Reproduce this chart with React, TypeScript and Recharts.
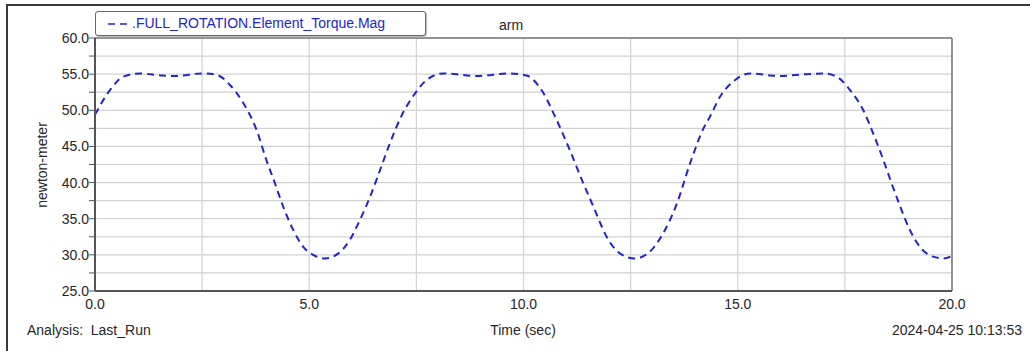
import React from "react";
import { LineChart, Line, XAxis, YAxis, CartesianGrid, ReferenceLine } from "recharts";

const timeSec = [
  0, 0.35, 0.66, 1.05, 1.56, 1.9, 2.49, 2.84, 3.15, 3.46, 3.77, 4.0, 4.2, 4.39, 4.63, 4.86, 5.09, 5.37,
  5.68, 5.95, 6.18, 6.42, 6.65, 6.88, 7.15, 7.47, 7.74, 8.13, 8.91, 9.69, 10.07, 10.42, 10.77, 11.08,
  11.36, 11.63, 11.94, 12.25, 12.6, 12.95, 13.26, 13.58, 13.89, 14.2, 14.35, 14.59, 14.94, 15.29, 15.95,
  16.61, 17.0, 17.31, 17.62, 17.93, 18.16, 18.4, 18.59, 18.79, 19.02, 19.25, 19.56, 19.8, 20.0,
];
const torqueMag = [
  49.4, 52.8, 54.65, 55.1, 54.8, 54.75, 55.1, 54.9, 53.5, 51.0, 47.3, 43.1, 39.9, 36.7, 33.4, 31.1, 30.0, 29.5,
  30.2, 32.1, 34.8, 38.05, 41.7, 45.4, 49.2, 52.35, 54.2, 55.1, 54.75, 55.1, 54.8, 52.8, 48.7, 44.5,
  40.4, 36.7, 32.5, 30.2, 29.5, 30.45, 33.0, 37.1, 42.7, 47.5, 49.1, 51.9, 54.2, 55.1, 54.75,
  55.0, 55.1, 54.65, 52.8, 50.0, 46.8, 43.1, 39.9, 36.7, 33.4, 31.1, 29.75, 29.5, 29.85,
];
const xTicks = [0, 2.5, 5, 7.5, 10, 12.5, 15, 17.5, 20];
const yTicks = [25, 27.5, 30, 32.5, 35, 37.5, 40, 42.5, 45, 47.5, 50, 52.5, 55, 57.5, 60];

const seriesName = ".FULL_ROTATION.Element_Torque.Mag";
const titleText = "arm";
const yLabel = "newton-meter";
const xLabel = "Time (sec)";
const analysisText = "Analysis:  Last_Run";
const stampText = "2024-04-25 10:13:53";

const data = timeSec.map((t, i) => ({ t, v: torqueMag[i] }));

const FONT = "'Liberation Sans', Arial, Helvetica, sans-serif";
const TXT = "#262626";
const BLUE = "#2323d2";

const YTick = (props: any) => {
  const { x, y, payload } = props;
  const v = payload.value;
  if (Math.abs(v % 5) > 1e-6) return null;
  return (
    <text x={x + 2} y={y + 5} textAnchor="end" fontSize={14} fill={TXT} fontFamily={FONT}>
      {v.toFixed(1)}
    </text>
  );
};

const XTick = (props: any) => {
  const { x, y, payload } = props;
  const v = payload.value;
  if (Math.abs(v % 5) > 1e-6) return null;
  return (
    <text x={x} y={y + 10} textAnchor="middle" fontSize={14} fill={TXT} fontFamily={FONT}>
      {v.toFixed(1)}
    </text>
  );
};

export default function App() {
  return (
    <div style={{ position: "absolute", left: 0, top: 0, width: 1030, height: 351, background: "#fff", fontFamily: FONT, overflow: "hidden" }}>
      <div style={{ position: "absolute", left: 6, top: 4, width: 1030, height: 360, borderTop: "2px solid #3a3a3a", borderLeft: "2px solid #3a3a3a" }} />
      <LineChart width={1030} height={351} data={data} margin={{ top: 38, right: 78, bottom: 0, left: 0 }}>
        <CartesianGrid stroke="#d2d2d2" strokeWidth={1.2} horizontalValues={yTicks} verticalValues={xTicks} />
        <XAxis
          dataKey="t"
          type="number"
          domain={[0, 20]}
          ticks={xTicks}
          height={60}
          tick={<XTick />}
          tickLine={false}
          axisLine={{ stroke: "#555", strokeWidth: 2 }}
          interval={0}
        />
        <YAxis
          dataKey="v"
          type="number"
          domain={[25, 60]}
          ticks={yTicks}
          width={95}
          tick={<YTick />}
          tickSize={6}
          tickLine={{ stroke: "#555" }}
          axisLine={{ stroke: "#555", strokeWidth: 2 }}
          interval={0}
        />
        <ReferenceLine y={60} stroke="#777" strokeWidth={1.5} />
        <ReferenceLine x={20} stroke="#777" strokeWidth={1.5} />
        <Line
          dataKey="v"
          type="monotone"
          stroke={BLUE}
          strokeWidth={2}
          strokeDasharray="7 5"
          dot={false}
          isAnimationActive={false}
        />
      </LineChart>
      <div style={{ position: "absolute", left: 95, top: 11, width: 329, height: 23, border: "1.5px solid #666", borderRadius: 3, background: "#fff", boxShadow: "1px 1px 1px #bbb" }}>
        <svg width={30} height={23} style={{ position: "absolute", left: 10, top: 0 }}>
          <line x1={2} y1={12} x2={26} y2={12} stroke={BLUE} strokeWidth={1.6} strokeDasharray="7 5" />
        </svg>
        <div style={{ position: "absolute", left: 36, top: 3, fontSize: 14, color: BLUE, whiteSpace: "nowrap", lineHeight: "16px" }}>
          {seriesName}
        </div>
      </div>
      <div style={{ position: "absolute", left: 511, top: 17, transform: "translateX(-50%)", fontSize: 14, color: TXT, lineHeight: "16px" }}>
        {titleText}
      </div>
      <div style={{ position: "absolute", left: 42, top: 165, transform: "translate(-50%, -50%) rotate(-90deg)", fontSize: 14, color: TXT, whiteSpace: "nowrap", lineHeight: "16px" }}>
        {yLabel}
      </div>
      <div style={{ position: "absolute", left: 27, top: 322, fontSize: 14, color: TXT, whiteSpace: "pre", lineHeight: "16px" }}>
        {analysisText}
      </div>
      <div style={{ position: "absolute", left: 523, top: 322, transform: "translateX(-50%)", fontSize: 14, color: TXT, whiteSpace: "nowrap", lineHeight: "16px" }}>
        {xLabel}
      </div>
      <div style={{ position: "absolute", right: 8, top: 322, fontSize: 14, color: TXT, whiteSpace: "nowrap", lineHeight: "16px" }}>
        {stampText}
      </div>
    </div>
  );
}
